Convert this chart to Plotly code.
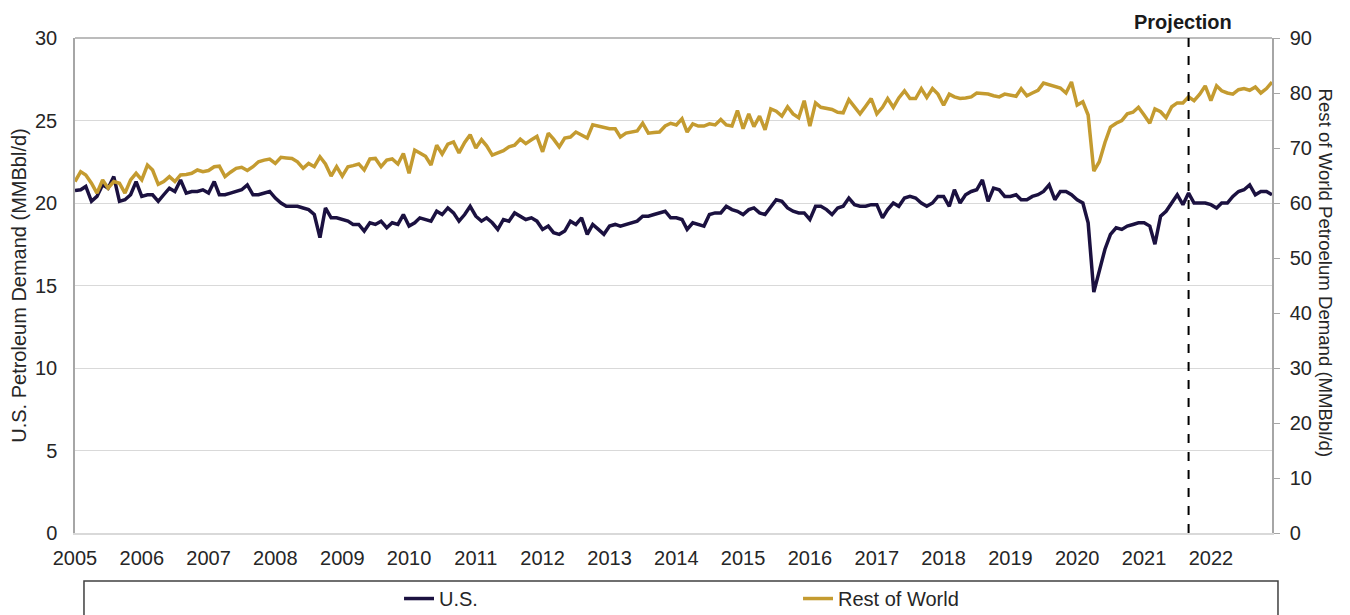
import pandas as pd
import plotly.graph_objects as go

# Monthly observations, Jan 2005 - Dec 2022
months = pd.date_range("2005-01-01", "2022-12-01", freq="MS").strftime("%Y-%m-%d").tolist()

us_demand = [
    20.75, 20.8, 21.0, 20.1, 20.4, 21.1, 20.9, 21.6, 20.1, 20.2, 20.5, 21.3,   # 2005
    20.4, 20.5, 20.5, 20.1, 20.5, 20.9, 20.7, 21.4, 20.6, 20.7, 20.7, 20.8,    # 2006
    20.6, 21.3, 20.5, 20.5, 20.6, 20.7, 20.8, 21.1, 20.5, 20.5, 20.6, 20.7,    # 2007
    20.3, 20.0, 19.8, 19.8, 19.8, 19.7, 19.6, 19.3, 17.9, 19.7, 19.1, 19.1,    # 2008
    19.0, 18.9, 18.7, 18.7, 18.3, 18.8, 18.7, 18.9, 18.5, 18.8, 18.7, 19.3,    # 2009
    18.6, 18.8, 19.1, 19.0, 18.9, 19.5, 19.3, 19.7, 19.4, 18.9, 19.3, 19.8,    # 2010
    19.2, 18.9, 19.1, 18.8, 18.4, 19.0, 18.9, 19.4, 19.2, 19.0, 19.1, 18.9,    # 2011
    18.4, 18.6, 18.2, 18.1, 18.3, 18.9, 18.7, 19.1, 18.1, 18.7, 18.4, 18.1,    # 2012
    18.6, 18.7, 18.6, 18.7, 18.8, 18.9, 19.2, 19.2, 19.3, 19.4, 19.5, 19.1,    # 2013
    19.1, 19.0, 18.4, 18.8, 18.7, 18.6, 19.3, 19.4, 19.4, 19.8, 19.6, 19.5,    # 2014
    19.3, 19.6, 19.7, 19.4, 19.3, 19.8, 20.2, 20.1, 19.7, 19.5, 19.4, 19.4,    # 2015
    19.0, 19.8, 19.8, 19.6, 19.3, 19.7, 19.8, 20.3, 19.9, 19.8, 19.8, 19.9,    # 2016
    19.9, 19.1, 19.6, 20.0, 19.8, 20.3, 20.4, 20.3, 20.0, 19.8, 20.0, 20.4,    # 2017
    20.4, 19.8, 20.8, 20.0, 20.5, 20.7, 20.8, 21.4, 20.1, 20.9, 20.8, 20.4,    # 2018
    20.4, 20.5, 20.2, 20.2, 20.4, 20.5, 20.7, 21.1, 20.2, 20.7, 20.7, 20.5,    # 2019
    20.2, 20.0, 18.8, 14.6, 15.8, 17.2, 18.1, 18.5, 18.4, 18.6, 18.7, 18.8,    # 2020
    18.8, 18.6, 17.5, 19.2, 19.5, 20.0, 20.5, 19.9, 20.6, 20.0, 20.0, 20.0,    # 2021
    19.9, 19.7, 20.0, 20.0, 20.4, 20.7, 20.8, 21.1, 20.5, 20.7, 20.7, 20.5,    # 2022
]

row_demand = [
    63.9, 65.7, 65.1, 63.6, 61.8, 64.2, 62.7, 63.9, 63.6, 61.8, 64.2, 65.4,    # 2005
    64.2, 66.9, 66.0, 63.4, 63.9, 64.8, 63.9, 65.1, 65.2, 65.4, 66.0, 65.7,    # 2006
    65.9, 66.6, 66.7, 64.8, 65.6, 66.3, 66.5, 65.9, 66.6, 67.5, 67.8, 68.0,    # 2007
    67.2, 68.3, 68.2, 68.1, 67.5, 66.3, 67.2, 66.6, 68.4, 67.1, 64.9, 66.6,    # 2008
    64.9, 66.6, 66.8, 67.1, 66.0, 68.0, 68.1, 66.6, 67.8, 68.0, 67.1, 69.0,    # 2009
    65.4, 69.6, 69.1, 68.5, 66.9, 70.5, 68.9, 70.7, 71.1, 69.1, 71.0, 72.4,    # 2010
    70.0, 71.5, 70.4, 68.7, 69.1, 69.5, 70.2, 70.5, 71.6, 70.8, 71.5, 72.1,    # 2011
    69.3, 72.7, 71.6, 70.2, 71.8, 72.0, 72.9, 72.3, 71.8, 74.2, 74.0, 73.8,    # 2012
    73.5, 73.5, 72.0, 72.7, 72.9, 73.1, 74.5, 72.7, 72.8, 72.9, 74.0, 74.5,    # 2013
    74.2, 75.3, 72.9, 74.4, 74.0, 74.0, 74.4, 74.2, 75.2, 74.2, 74.0, 76.8,    # 2014
    73.5, 76.2, 73.9, 75.8, 73.3, 77.1, 76.7, 75.8, 77.5, 76.2, 75.5, 78.6,    # 2015
    74.0, 78.2, 77.4, 77.2, 77.0, 76.5, 76.4, 78.8, 77.6, 76.2, 77.6, 79.0,    # 2016
    76.2, 77.4, 79.0, 77.4, 79.1, 80.4, 79.0, 79.0, 80.8, 79.2, 80.8, 79.8,    # 2017
    77.8, 79.8, 79.3, 79.0, 79.1, 79.3, 80.0, 79.9, 79.8, 79.5, 79.3, 79.8,    # 2018
    79.6, 79.4, 80.8, 79.5, 80.0, 80.5, 81.8, 81.5, 81.3, 80.9, 80.0, 82.0,    # 2019
    77.8, 78.4, 76.0, 65.8, 67.5, 71.0, 73.8, 74.5, 75.0, 76.2, 76.5, 77.4,    # 2020
    76.0, 74.5, 77.1, 76.6, 75.5, 77.5, 78.2, 78.2, 79.3, 78.6, 79.8, 81.3,    # 2021
    78.6, 81.3, 80.4, 80.0, 79.8, 80.6, 80.8, 80.5, 81.1, 80.0, 80.8, 82.0,    # 2022
]

year_ticks = [f"{y}-01-01" for y in range(2005, 2023)]
year_labels = [str(y) for y in range(2005, 2023)]
projection_start = "2021-09-01"
series_names = ["U.S.", "Rest of World"]

assert len(us_demand) == len(months) == len(row_demand)

FONT = "Liberation Sans, Arial, sans-serif"
US_COLOR = "#1b1140"
ROW_COLOR = "#c49b30"

fig = go.Figure()
fig.add_trace(go.Scatter(x=months, y=us_demand, name=series_names[0], mode="lines",
                         line=dict(color=US_COLOR, width=3.5), yaxis="y"))
fig.add_trace(go.Scatter(x=months, y=row_demand, name=series_names[1], mode="lines",
                         line=dict(color=ROW_COLOR, width=3.5), yaxis="y2"))

# The page body adds an 8px offset, so the figure is sized to the visible area.
fig.update_layout(
    width=1342, height=607,
    margin=dict(l=67, r=78, t=30, b=82, autoexpand=False),
    paper_bgcolor="white", plot_bgcolor="white",
    font=dict(family=FONT, size=20, color="#262626"),
    showlegend=True,
    legend=dict(orientation="h", x=0.2707, xanchor="left", y=-0.093, yanchor="top",
                entrywidth=354, entrywidthmode="pixels",
                font=dict(size=20, color="#262626"), bgcolor="rgba(0,0,0,0)",
                itemwidth=30, tracegroupgap=0),
    xaxis=dict(type="date", range=["2005-01-01", "2022-12-01"],
               tickvals=year_ticks, ticktext=year_labels, tickangle=0,
               showgrid=False, zeroline=False, showline=True, linecolor="#d9d9d9",
               linewidth=1.5, ticks="", ticklabelstandoff=6, tickfont=dict(size=20)),
    yaxis=dict(range=[0, 30], dtick=5, tick0=0, showgrid=True, gridcolor="#d9d9d9",
               gridwidth=1.2, zeroline=False, showline=True, linecolor="#a6a6a6",
               linewidth=1.5, ticks="", ticklabelstandoff=12, tickfont=dict(size=20),
               title=dict(text="U.S. Petroleum Demand (MMBbl/d)", font=dict(size=20), standoff=4)),
    yaxis2=dict(range=[0, 90], dtick=10, tick0=0, overlaying="y", side="right",
                showgrid=False, zeroline=False, showline=True, linecolor="#a6a6a6",
                linewidth=1.5, ticks="outside", ticklen=6, tickcolor="#a6a6a6",
                ticklabelstandoff=6, tickfont=dict(size=20)),
    shapes=[
        # top border of the plot area
        dict(type="line", xref="paper", yref="paper", x0=0, x1=1, y0=1, y1=1,
             line=dict(color="#a6a6a6", width=1.5)),
        # projection divider
        dict(type="line", xref="x", yref="paper", x0=projection_start, x1=projection_start,
             y0=0, y1=1, line=dict(color="black", width=2, dash="dash")),
        # legend frame
        dict(type="rect", xref="paper", yref="paper", x0=0.0075, x1=1.005, y0=-0.097, y1=-0.25,
             line=dict(color="#404040", width=1.5)),
    ],
    annotations=[
        dict(text="<b>Projection</b>", x=projection_start, xref="x", y=1.032, yref="paper",
             showarrow=False, xanchor="center", yanchor="middle", xshift=-6,
             font=dict(size=20, color="#1a1a1a", family=FONT)),
        # right-axis title, reading top to bottom as in the original
        dict(text="Rest of World Petroelum Demand (MMBbl/d)", x=1.0443, xref="paper",
             y=0.526, yref="paper", textangle=90, showarrow=False,
             xanchor="center", yanchor="middle",
             font=dict(size=18.6, color="#262626", family=FONT)),
    ],
)

fig.write_html("out.html")
